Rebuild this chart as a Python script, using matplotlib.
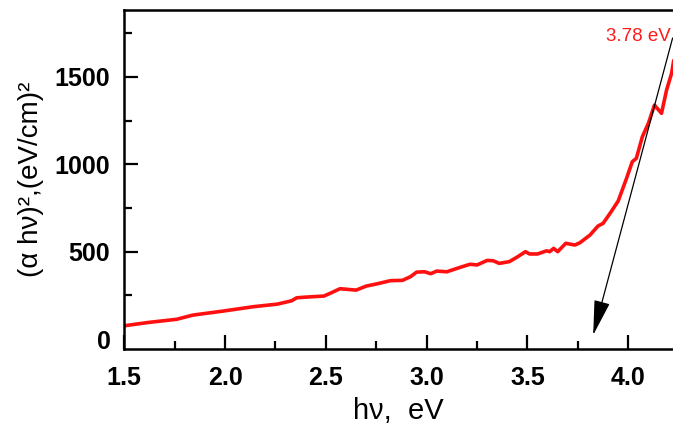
import matplotlib
matplotlib.use("Agg")
import matplotlib.pyplot as plt
from matplotlib.ticker import MultipleLocator, FormatStrFormatter

#----------------------------------------
#--------data-------
#----------------------------------------
hv = [1.50, 1.62, 1.76, 1.84, 1.99, 2.14, 2.26, 2.33, 2.355, 2.40, 2.49, 2.52,
      2.57, 2.65, 2.70, 2.75, 2.82, 2.88, 2.92, 2.95, 2.99, 3.02, 3.05, 3.10,
      3.165, 3.215, 3.25, 3.30, 3.33, 3.36, 3.41, 3.45, 3.49, 3.51, 3.55, 3.595,
      3.61, 3.63, 3.65, 3.69, 3.735, 3.76, 3.81, 3.85, 3.875, 3.91, 3.95, 3.99,
      4.02, 4.04, 4.07, 4.10, 4.13, 4.165, 4.19, 4.215, 4.225]
ahv2 = [76, 95, 113, 137, 160, 185, 200, 219, 236, 240, 246, 261,
        288, 280, 303, 315, 334, 336, 357, 383, 385, 374, 389, 385,
        410, 428, 424, 450, 448, 433, 443, 470, 500, 487, 487, 505,
        500, 519, 500, 548, 538, 551, 595, 647, 662, 720, 790, 915,
        1015, 1034, 1158, 1235, 1339, 1292, 1425, 1521, 1590]

gap_label = "3.78 eV"
arrow_tail = (4.22, 1723)
arrow_tip = (3.826, 23)

plt.rcParams['font.family'] = ['Liberation Sans', 'DejaVu Sans']

fig = plt.figure(figsize=(6.73, 4.29), dpi=100)
ax = fig.add_axes([0.1847, 0.1865, 0.8153, 0.79])

ax.plot(hv, ahv2, color='#ff1010', lw=2.6, solid_joinstyle='round')

ax.annotate("", xy=arrow_tip, xytext=arrow_tail,
            arrowprops=dict(arrowstyle='-|>,head_length=1.1,head_width=0.25',
                            color='black', lw=0.9, mutation_scale=20,
                            shrinkA=0, shrinkB=0))
ax.text(4.212, 1730, gap_label, color='#ff1a1a', fontsize=13.5,
        ha='right', va='center')

ax.set_xlim(1.5, 4.222)
ax.set_ylim(-57, 1883)
ax.xaxis.set_major_locator(MultipleLocator(0.5))
ax.xaxis.set_minor_locator(MultipleLocator(0.25))
ax.xaxis.set_major_formatter(FormatStrFormatter('%.1f'))
ax.set_yticks([0, 500, 1000, 1500])
ax.yaxis.set_minor_locator(MultipleLocator(250))

ax.tick_params(which='major', direction='in', length=10, width=1.6,
               labelsize=18, top=False, right=False)
ax.tick_params(axis='x', which='major', pad=12)
ax.tick_params(axis='y', which='major', pad=10)
ax.tick_params(which='minor', direction='in', length=5.5, width=1.6,
               top=False, right=False)
for lab in ax.get_xticklabels() + ax.get_yticklabels():
    lab.set_fontweight('bold')
ax.yaxis.get_major_ticks()[0].tick1line.set_visible(False)

for s in ['left', 'bottom', 'top']:
    ax.spines[s].set_linewidth(1.8)
ax.spines['right'].set_visible(False)

ax.set_xlabel("hν,  eV", fontsize=21, labelpad=5)
ax.set_ylabel("(α hν)²,(eV/cm)²", fontsize=20, labelpad=8)

fig.savefig("out.png", dpi=100)
